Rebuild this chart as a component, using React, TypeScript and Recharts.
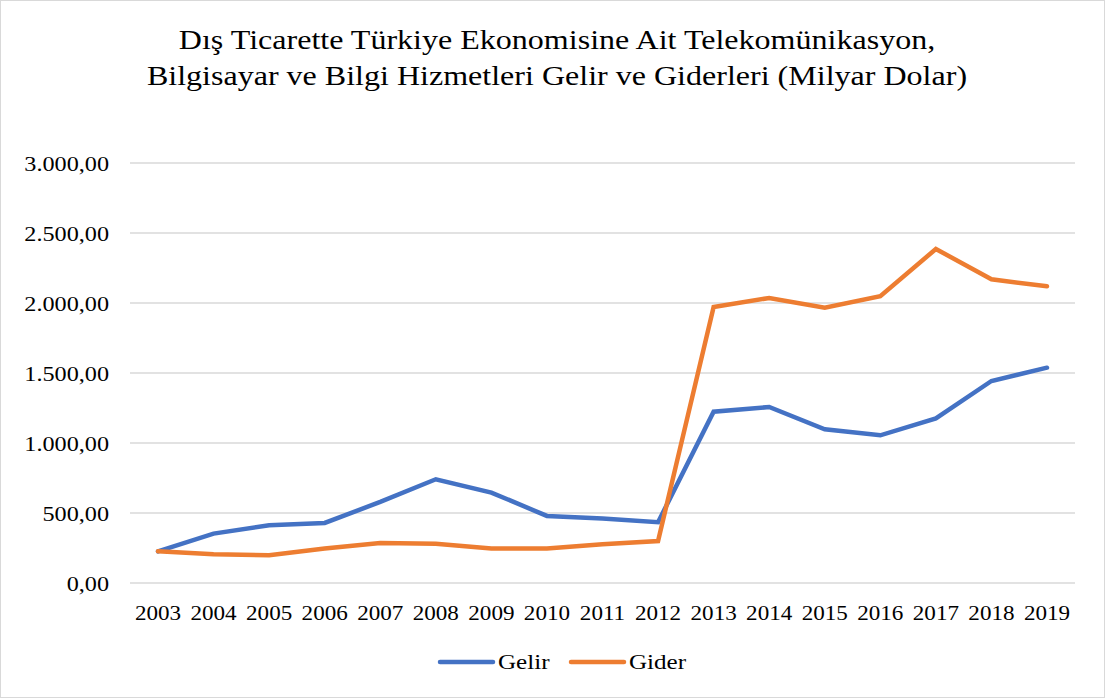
import { CartesianGrid, Legend, Line, LineChart, XAxis, YAxis } from 'recharts'

const years = ['2003', '2004', '2005', '2006', '2007', '2008', '2009', '2010', '2011', '2012', '2013', '2014', '2015', '2016', '2017', '2018', '2019']
const gelir = [226, 353, 412, 429, 579, 741, 646, 479, 460, 434, 1224, 1257, 1098, 1055, 1176, 1443, 1538]
const gider = [226, 205, 198, 246, 286, 281, 246, 246, 276, 300, 1971, 2036, 1967, 2048, 2386, 2169, 2119]
const yTicks = [0, 500, 1000, 1500, 2000, 2500, 3000]

const data = years.map((year, i) => ({ year, Gelir: gelir[i], Gider: gider[i] }))

const FONT = '"Liberation Serif", "Times New Roman", serif'
const BLUE = '#4472C4'
const ORANGE = '#ED7D31'

// 3000 -> "3.000,00"
function trNumber(v: number) {
  const s = Math.round(v).toString().replace(/\B(?=(\d{3})+(?!\d))/g, '.')
  return s + ',00'
}

// the source picture is slightly stretched sideways, so the texts are too
function YTick({ x, y, payload }: any) {
  return (
    <g transform={`translate(${x},${y})`}>
      <text transform="scale(1.1,1)" textAnchor="end" dy="0.355em" fontFamily={FONT} fontSize={22} fill="#000">
        {trNumber(payload.value)}
      </text>
    </g>
  )
}

function XTick({ x, y, payload }: any) {
  return (
    <g transform={`translate(${x},${y})`}>
      <text transform="scale(1.05,1)" textAnchor="middle" dy="0.71em" fontFamily={FONT} fontSize={22} fill="#000">
        {payload.value}
      </text>
    </g>
  )
}

function LegendContent() {
  const items = [
    { name: 'Gelir', color: BLUE, w: 49 },
    { name: 'Gider', color: ORANGE, w: 53 },
  ]
  return (
    <div style={{ display: 'flex', justifyContent: 'center', alignItems: 'center', height: 30, paddingLeft: 44 }}>
      {items.map((it, i) => (
        <div key={it.name} style={{ display: 'flex', alignItems: 'center', marginLeft: i ? 21 : 0 }}>
          <svg width={59} height={8} style={{ marginRight: 2 }}>
            <line x1={3} y1={4} x2={56} y2={4} stroke={it.color} strokeWidth={4.5} strokeLinecap="round" />
          </svg>
          <span
            style={{
              display: 'inline-block',
              width: it.w,
              whiteSpace: 'nowrap',
              transform: 'scaleX(1.14)',
              transformOrigin: 'left center',
              fontFamily: FONT,
              fontSize: 22,
              color: '#000',
            }}
          >
            {it.name}
          </span>
        </div>
      ))}
    </div>
  )
}

export default function App() {
  return (
    <div style={{ position: 'absolute', left: 0, top: 0, width: 1105, height: 698, background: '#fff' }}>
      <div
        style={{
          position: 'absolute',
          left: 0,
          top: 0,
          width: 1103,
          height: 696,
          border: '1px solid #d9d9d9',
          pointerEvents: 'none',
        }}
      />
      <div
        style={{
          position: 'absolute',
          top: 22,
          left: 0,
          width: 1114,
          textAlign: 'center',
          fontFamily: FONT,
          fontSize: 28,
          lineHeight: '36px',
          color: '#000',
          transform: 'scaleX(1.144)',
          transformOrigin: '557px 0',
        }}
      >
        Dış Ticarette Türkiye Ekonomisine Ait Telekomünikasyon,
        <br />
        Bilgisayar ve Bilgi Hizmetleri Gelir ve Giderleri (Milyar Dolar)
      </div>
      <LineChart width={1105} height={698} data={data} margin={{ top: 163, right: 30, bottom: 21, left: 0 }}>
        <CartesianGrid vertical={false} stroke="#d9d9d9" strokeWidth={1.3} />
        <XAxis
          dataKey="year"
          padding={{ left: 28, right: 28 }}
          axisLine={false}
          tickLine={false}
          tickSize={0}
          tickMargin={21}
          height={64}
          interval={0}
          tick={<XTick />}
        />
        <YAxis
          width={130}
          domain={[0, 3000]}
          ticks={yTicks}
          axisLine={false}
          tickLine={false}
          tickSize={0}
          tickMargin={21}
          tick={<YTick />}
        />
        <Legend verticalAlign="bottom" height={30} content={<LegendContent />} />
        <Line type="linear" dataKey="Gelir" stroke={BLUE} strokeWidth={4.5} dot={false} strokeLinecap="round" isAnimationActive={false} />
        <Line type="linear" dataKey="Gider" stroke={ORANGE} strokeWidth={4.5} dot={false} strokeLinecap="round" isAnimationActive={false} />
      </LineChart>
    </div>
  )
}
